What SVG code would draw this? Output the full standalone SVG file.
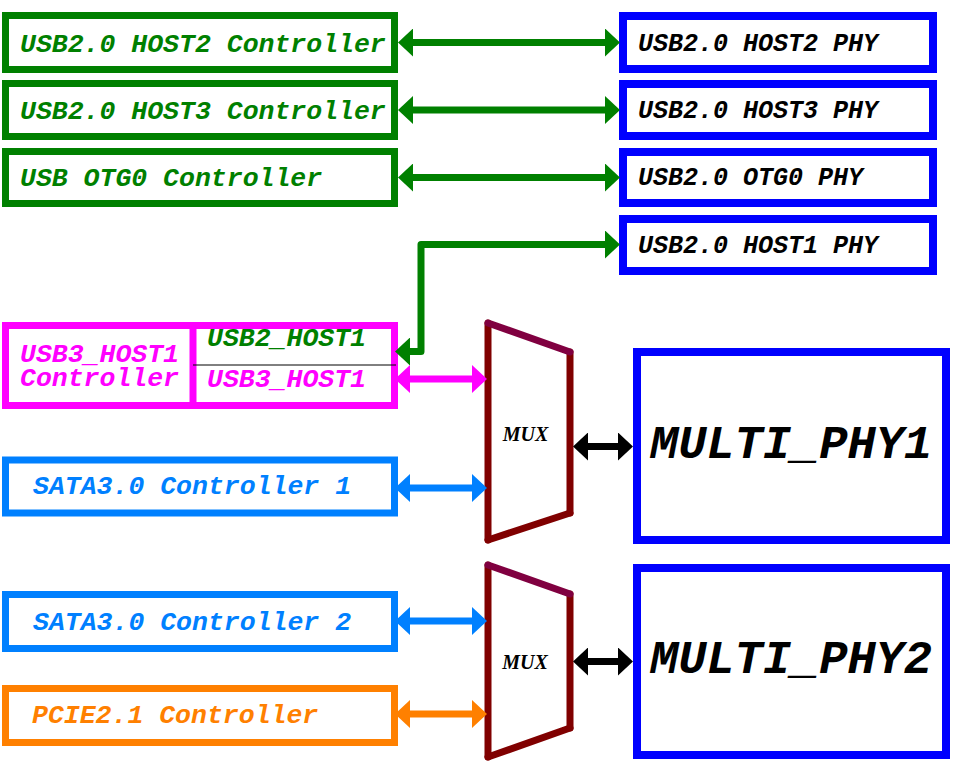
<svg xmlns="http://www.w3.org/2000/svg" width="955" height="763" viewBox="0 0 955 763">
<style>
.box{fill:#fff;stroke-width:7}
.phy{fill:#fff;stroke:#0000ff;stroke-width:8}
.t{font-family:"Liberation Mono","Courier New",monospace;font-weight:bold;font-style:italic;font-size:26.5px}
.tp{font-family:"Liberation Mono","Courier New",monospace;font-weight:bold;font-style:italic;font-size:25px;fill:#000}
.big{font-family:"Liberation Mono","Courier New",monospace;font-weight:bold;font-style:italic;font-size:47px;fill:#000}
.mux{font-family:"Liberation Serif","Times New Roman",serif;font-weight:bold;font-style:italic;font-size:20px;fill:#000}
.mx{stroke:#800000;stroke-width:7;stroke-linecap:round;fill:none}
.mxt{stroke:#800040;stroke-width:7;stroke-linecap:round;fill:none}
.ln{fill:none;stroke-width:7;stroke-linejoin:round}
</style>
<defs>
<marker id="ag" markerUnits="userSpaceOnUse" markerWidth="15" markerHeight="28" viewBox="0 0 15 28" refX="11" refY="14" orient="auto-start-reverse"><path d="M0,0 L15,14 L0,28 Z" fill="#008000"/></marker>
<marker id="ap" markerUnits="userSpaceOnUse" markerWidth="15" markerHeight="28" viewBox="0 0 15 28" refX="11" refY="14" orient="auto-start-reverse"><path d="M0,0 L15,14 L0,28 Z" fill="#ff00ff"/></marker>
<marker id="ab" markerUnits="userSpaceOnUse" markerWidth="15" markerHeight="28" viewBox="0 0 15 28" refX="11" refY="14" orient="auto-start-reverse"><path d="M0,0 L15,14 L0,28 Z" fill="#0080ff"/></marker>
<marker id="ao" markerUnits="userSpaceOnUse" markerWidth="15" markerHeight="28" viewBox="0 0 15 28" refX="11" refY="14" orient="auto-start-reverse"><path d="M0,0 L15,14 L0,28 Z" fill="#ff8000"/></marker>
<marker id="ak" markerUnits="userSpaceOnUse" markerWidth="15" markerHeight="28" viewBox="0 0 15 28" refX="11" refY="14" orient="auto-start-reverse"><path d="M0,0 L15,14 L0,28 Z" fill="#000"/></marker>
</defs>
<rect width="955" height="763" fill="#fff"/>

<g id="host2-ctrl"><rect class="box" x="5.5" y="15.5" width="389" height="54" stroke="#008000"/><text class="t" x="20" y="52" fill="#008000">USB2.0 HOST2 Controller</text></g>
<g id="host3-ctrl"><rect class="box" x="5.5" y="83.5" width="389" height="53" stroke="#008000"/><text class="t" x="20" y="119" fill="#008000">USB2.0 HOST3 Controller</text></g>
<g id="otg0-ctrl"><rect class="box" x="5.5" y="151.5" width="389" height="52" stroke="#008000"/><text class="t" x="20" y="186" fill="#008000">USB OTG0 Controller</text></g>

<g id="host2-phy"><rect class="phy" x="623" y="16" width="310" height="53"/><text class="tp" x="638" y="51">USB2.0 HOST2 PHY</text></g>
<g id="host3-phy"><rect class="phy" x="623" y="84" width="310" height="52"/><text class="tp" x="638" y="118">USB2.0 HOST3 PHY</text></g>
<g id="otg0-phy"><rect class="phy" x="623" y="152" width="310" height="51"/><text class="tp" x="638" y="185">USB2.0 OTG0 PHY</text></g>
<g id="host1-phy"><rect class="phy" x="623" y="219" width="310" height="52"/><text class="tp" x="638" y="253">USB2.0 HOST1 PHY</text></g>

<g id="usb3-host1-ctrl">
<rect class="box" x="5.5" y="325.5" width="389" height="80" stroke="#ff00ff"/>
<line x1="193" y1="325" x2="193" y2="406" stroke="#ff00ff" stroke-width="7"/>
<line x1="193" y1="365" x2="396" y2="365" stroke="#000" stroke-width="1"/>
<text class="t" x="20" y="362" fill="#ff00ff">USB3_HOST1</text>
<text class="t" x="20" y="386" fill="#ff00ff">Controller</text>
<text class="t" x="207" y="346" fill="#008000">USB2_HOST1</text>
<text class="t" x="207" y="387" fill="#ff00ff">USB3_HOST1</text>
</g>

<g id="sata1-ctrl"><rect class="box" x="5.5" y="460" width="389" height="53" stroke="#0080ff"/><text class="t" x="33" y="494" fill="#0080ff">SATA3.0 Controller 1</text></g>
<g id="sata2-ctrl"><rect class="box" x="5.5" y="594.5" width="389" height="54" stroke="#0080ff"/><text class="t" x="33" y="630" fill="#0080ff">SATA3.0 Controller 2</text></g>
<g id="pcie-ctrl"><rect class="box" x="5.5" y="688.5" width="389" height="54" stroke="#ff8000"/><text class="t" x="32" y="723" fill="#ff8000">PCIE2.1 Controller</text></g>

<g id="mux1">
<path d="M488,323 L570,352 L570,513 L488,540 Z" fill="#fff" stroke="none"/>
<line class="mx" x1="488" y1="323" x2="488" y2="540"/>
<line class="mx" x1="570" y1="352" x2="570" y2="513"/>
<line class="mx" x1="488" y1="540" x2="570" y2="513"/>
<line class="mxt" x1="488" y1="323" x2="570" y2="352"/>
<text class="mux" x="525.5" y="441" text-anchor="middle">MUX</text>
</g>
<g id="mux2">
<path d="M488,565 L570,594 L570,728 L488,757 Z" fill="#fff" stroke="none"/>
<line class="mx" x1="488" y1="565" x2="488" y2="757"/>
<line class="mx" x1="570" y1="594" x2="570" y2="728"/>
<line class="mx" x1="488" y1="757" x2="570" y2="728"/>
<line class="mxt" x1="488" y1="565" x2="570" y2="594"/>
<text class="mux" x="525" y="669" text-anchor="middle">MUX</text>
</g>

<g id="multi-phy1"><rect class="phy" x="637" y="352" width="309" height="188"/><text class="big" x="650" y="458">MULTI_PHY1</text></g>
<g id="multi-phy2"><rect class="phy" x="637" y="568" width="309" height="187"/><text class="big" x="650" y="673">MULTI_PHY2</text></g>

<g id="connectors">
<line class="ln" stroke="#008000" x1="402" y1="42.5" x2="616" y2="42.5" marker-start="url(#ag)" marker-end="url(#ag)"/>
<line class="ln" stroke="#008000" x1="402" y1="110" x2="616" y2="110" marker-start="url(#ag)" marker-end="url(#ag)"/>
<line class="ln" stroke="#008000" x1="402" y1="177.5" x2="616" y2="177.5" marker-start="url(#ag)" marker-end="url(#ag)"/>
<path class="ln" stroke="#008000" d="M616,244.5 L421,244.5 L421,351.5 L399,351.5" marker-start="url(#ag)" marker-end="url(#ag)"/>
<line class="ln" stroke="#ff00ff" x1="399" y1="379" x2="483" y2="379" marker-start="url(#ap)" marker-end="url(#ap)"/>
<line class="ln" stroke="#0080ff" x1="399" y1="488" x2="483" y2="488" marker-start="url(#ab)" marker-end="url(#ab)"/>
<line class="ln" stroke="#0080ff" x1="399" y1="621" x2="483" y2="621" marker-start="url(#ab)" marker-end="url(#ab)"/>
<line class="ln" stroke="#ff8000" x1="399" y1="714" x2="483" y2="714" marker-start="url(#ao)" marker-end="url(#ao)"/>
<line class="ln" stroke="#000" stroke-width="8" x1="577" y1="446.5" x2="629" y2="446.5" marker-start="url(#ak)" marker-end="url(#ak)"/>
<line class="ln" stroke="#000" stroke-width="8" x1="577" y1="661.5" x2="629" y2="661.5" marker-start="url(#ak)" marker-end="url(#ak)"/>
</g>
</svg>
